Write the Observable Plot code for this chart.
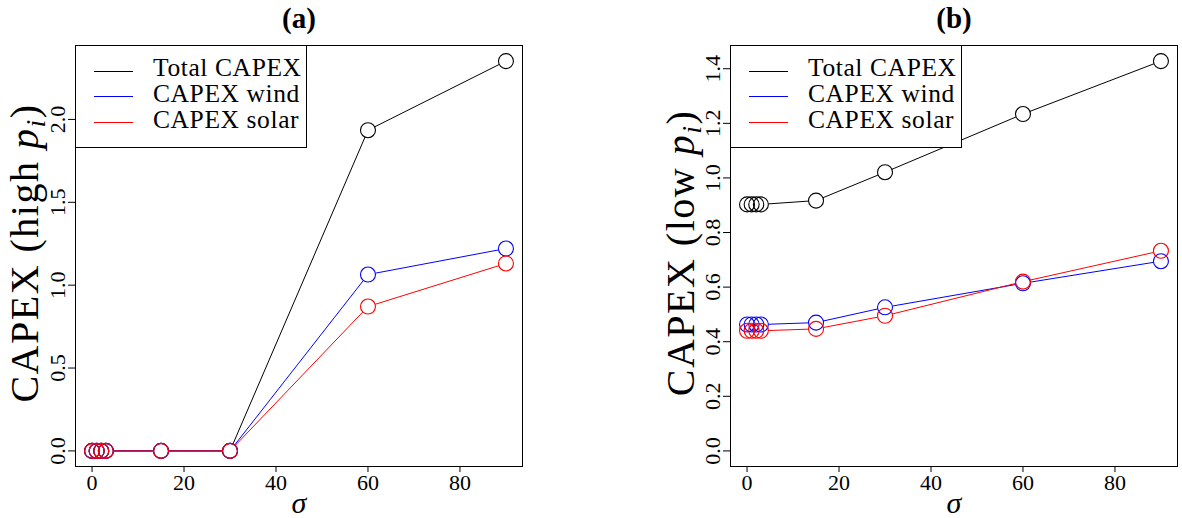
<!DOCTYPE html>
<html><head><meta charset="utf-8">
<script src="https://cdn.jsdelivr.net/npm/d3@7"></script>
<script src="https://cdn.jsdelivr.net/npm/@observablehq/plot@0.6"></script>
<style>
body{margin:0;background:#fff;}
#wrap{position:relative;width:1182px;height:518px;font-family:"Liberation Serif",serif;overflow:hidden;}
.panel{position:absolute;top:0;}
.legend{position:absolute;border:1px solid #000;background:#fff;box-sizing:border-box;}
.legend .ln{position:absolute;height:0;border-top:1px solid;}
.legend .tx{position:absolute;height:24px;line-height:24px;font-size:25.5px;letter-spacing:0.6px;white-space:nowrap;color:#000;}
</style></head><body><div id="wrap"></div>
<script>
// ---- data ----
const sigma = [0, 1, 2, 3, 15, 30, 60, 90];
const seriesNames = ["Total CAPEX", "CAPEX wind", "CAPEX solar"];
const seriesColors = ["#000000", "#0000ff", "#ff0000"];
// panel (a): high p_i
const totalHigh = [0, 0, 0, 0, 0, 0, 1.935, 2.352];
const windHigh  = [0, 0, 0, 0, 0, 0, 1.064, 1.221];
const solarHigh = [0, 0, 0, 0, 0, 0, 0.871, 1.131];
// panel (b): low p_i
const totalLow = [0.903, 0.903, 0.903, 0.903, 0.917, 1.021, 1.234, 1.428];
const windLow  = [0.463, 0.463, 0.463, 0.463, 0.470, 0.526, 0.614, 0.695];
const solarLow = [0.440, 0.440, 0.440, 0.440, 0.447, 0.495, 0.620, 0.733];
// ticks & labels
const xTicks = [0, 20, 40, 60, 80];
const yTicksHigh = [0, 0.5, 1, 1.5, 2];
const yTicksLow = [0, 0.2, 0.4, 0.6, 0.8, 1.0, 1.2, 1.4];
const titles = ["(a)", "(b)"];
const yLabelHigh = ["CAPEX (high ", "p", "i", ")"];
const yLabelLow = ["CAPEX (low ", "p", "i", ")"];
const xLabel = "σ";

// ---- helpers ----
function buildRows(seriesArrays) {
  const rows = [];
  seriesArrays.forEach((arr, s) => arr.forEach((v, i) => rows.push({series: seriesNames[s], x: sigma[i], y: v})));
  return rows;
}
function buildSegs(seriesArrays) {
  const segs = [];
  seriesArrays.forEach((arr, s) => {
    for (let i = 1; i < arr.length; i++) segs.push({series: seriesNames[s], x1: sigma[i-1], y1: arr[i-1], x2: sigma[i], y2: arr[i]});
  });
  return segs;
}
function ext(lo, hi) { const d = (hi - lo) * 0.04; return [lo - d, hi + d]; }

const W = 591, H = 518, MT = 45, MB = 52;
const FF = "'Liberation Serif', serif";
const wrap = document.getElementById("wrap");

function makePanel({arrays, yTicks, title, ylabel, left, marginLeft, marginRight, ylabelDx}) {
  const rows = buildRows(arrays);
  const segs = buildSegs(arrays);
  const ymax = d3.max(rows, d => d.y);
  const ylabelText = ylabel.join("");
  const plot = Plot.plot({
    width: W, height: H,
    marginTop: MT, marginBottom: MB, marginLeft, marginRight,
    style: {fontFamily: FF, background: "white", color: "black"},
    x: {domain: ext(d3.min(sigma), d3.max(sigma))},
    y: {domain: ext(0, ymax)},
    color: {domain: seriesNames, range: seriesColors},
    marks: [
      Plot.frame({stroke: "black", strokeWidth: 1}),
      Plot.axisX({ticks: xTicks, tickSize: 6, tickPadding: 2, fontSize: 22, label: null, tickFormat: d => String(d)}),
      Plot.axisY({ticks: yTicks, tickSize: 7, tickPadding: 4, tickRotate: -90, fontSize: 22, label: null, tickFormat: d3.format(".1f")}),
      Plot.arrow(segs, {x1: "x1", y1: "y1", x2: "x2", y2: "y2", stroke: "series", bend: 0, headLength: 0, insetStart: 7.5, insetEnd: 7.5, strokeWidth: 1, strokeLinecap: "butt"}),
      Plot.dot(rows, {x: "x", y: "y", r: 7.5, stroke: "series", fill: "none", strokeWidth: 1.1}),
      Plot.text([title], {text: d => d, frameAnchor: "top", textAnchor: "middle", lineAnchor: "middle", dy: -27, fontSize: 29, fontWeight: "bold", fill: "black"}),
      Plot.text([ylabelText], {text: d => d, frameAnchor: "left", textAnchor: "middle", lineAnchor: "middle", dx: ylabelDx, rotate: -90, fontSize: 40, fill: "black", dy: -3}),
      Plot.text([xLabel], {text: d => d, frameAnchor: "bottom", textAnchor: "middle", lineAnchor: "middle", dy: 37, fontSize: 30, fontStyle: "italic", fill: "black"})
    ]
  });
  plot.classList.add("panel");
  plot.style.left = left + "px";
  plot.style.position = "absolute";
  wrap.appendChild(plot);
  plot.querySelectorAll("text").forEach(t => {
    t.style.fontFamily = FF;
    // subscript formatting of the y label
    if (t.textContent === ylabelText) {
      t.textContent = "";
      const ns = "http://www.w3.org/2000/svg";
      const a = document.createElementNS(ns, "tspan"); a.textContent = ylabel[0];
      const p = document.createElementNS(ns, "tspan"); p.textContent = ylabel[1]; p.setAttribute("font-style", "italic");
      const i = document.createElementNS(ns, "tspan"); i.textContent = ylabel[2]; i.setAttribute("font-style", "italic"); i.setAttribute("font-size", "28"); i.setAttribute("dy", "7");
      const c = document.createElementNS(ns, "tspan"); c.textContent = ylabel[3]; c.setAttribute("dy", "-7");
      t.append(a, p, i, c);
      t.setAttribute("letter-spacing", "1.5");
    }
  });
  return plot;
}

function makeLegend(boxLeft) {
  const box = document.createElement("div");
  box.className = "legend";
  Object.assign(box.style, {left: boxLeft + "px", top: MT + "px", width: "232px", height: "103px"});
  const lineY = [25.5, 51, 76.5];
  const textY = [23.6, 49.5, 75];
  seriesNames.forEach((name, k) => {
    const ln = document.createElement("div");
    ln.className = "ln";
    Object.assign(ln.style, {left: "18px", width: "39px", top: (lineY[k] - 1) + "px", borderTopColor: seriesColors[k]});
    const tx = document.createElement("div");
    tx.className = "tx";
    tx.textContent = name;
    Object.assign(tx.style, {left: "77px", top: (textY[k] - 13.5) + "px"});
    box.append(ln, tx);
  });
  wrap.appendChild(box);
}

makePanel({arrays: [totalHigh, windHigh, solarHigh], yTicks: yTicksHigh, title: titles[0], ylabel: yLabelHigh, left: 0, marginLeft: 75, marginRight: 69, ylabelDx: -50});
makePanel({arrays: [totalLow, windLow, solarLow], yTicks: yTicksLow, title: titles[1], ylabel: yLabelLow, left: 591, marginLeft: 139, marginRight: 5, ylabelDx: -49});
makeLegend(75);
makeLegend(730);
</script></body></html>
